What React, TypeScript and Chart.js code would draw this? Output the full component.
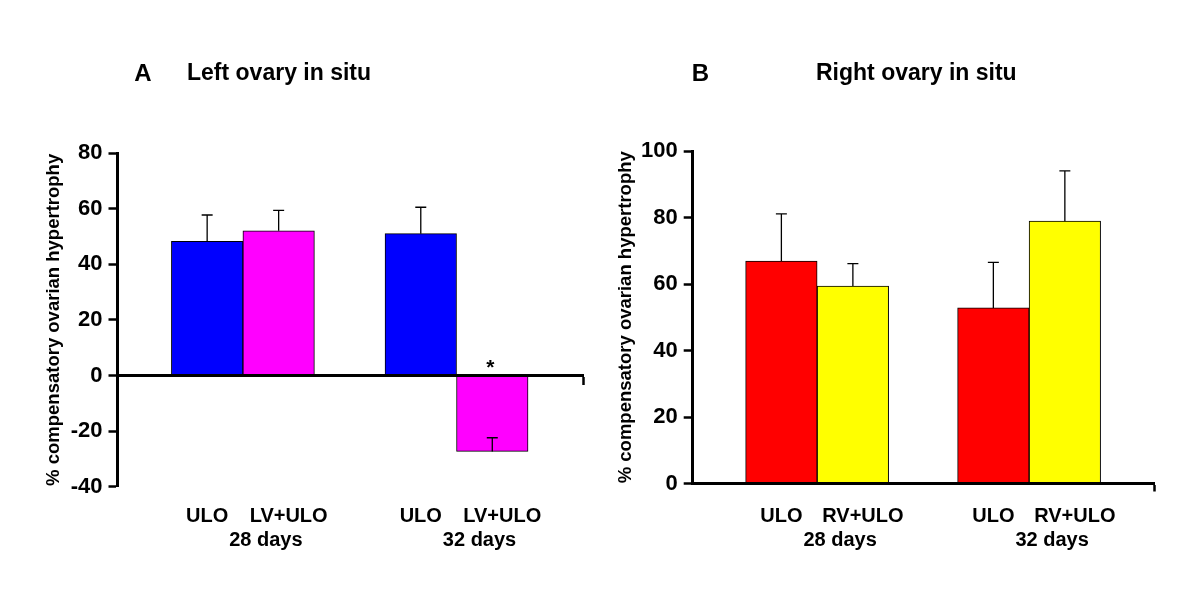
import { useEffect, useRef } from 'react';
import { Chart, registerables } from 'chart.js';

Chart.register(...registerables);

// ---------- data ----------
const GROUP_LABELS = ['28 days', '32 days'];
const GROUP_POS = [0, 1];

const A_SERIES = ['ULO', 'LV+ULO'];
const A_ULO = [48.2, 51.0];
const A_ULO_ERR = [9.5, 9.5];
const A_LV = [52.0, -27.3];
const A_LV_ERR = [7.4, 4.9];
const A_LV_MARKS = ['', '*'];
const A_Y_MIN = -40;
const A_Y_MAX = 80;

const B_SERIES = ['ULO', 'RV+ULO'];
const B_ULO = [66.9, 52.8];
const B_ULO_ERR = [14.2, 13.7];
const B_RV = [59.4, 78.9];
const B_RV_ERR = [6.7, 15.1];
const B_Y_MIN = 0;
const B_Y_MAX = 100;

const Y_STEP = 20;
const Y_TITLE = '% compensatory ovarian hypertrophy';

// ---------- style ----------
const FONT = "'Liberation Sans', Arial, Helvetica, sans-serif";
const X_MIN = -0.587;
const X_MAX = 1.592;
const BAR_W = 71.5;

type Panel = {
  letter: string;
  title: string;
  series: string[];
  values: number[][];
  errors: number[][];
  marks: string[][];
  colors: string[];
  yMin: number;
  yMax: number;
  xPos: any;
  padding: { left: number; top: number; right: number; bottom: number };
  axisX: number;
  yTitlePad: number;
  letterX: number;
  titleX: number;
};

const PANELS: Panel[] = [
  {
    letter: 'A',
    title: 'Left ovary in situ',
    series: A_SERIES,
    values: [A_ULO, A_LV],
    errors: [A_ULO_ERR, A_LV_ERR],
    marks: [['', ''], A_LV_MARKS],
    colors: ['#0000FF', '#FF00FF'],
    yMin: A_Y_MIN,
    yMax: A_Y_MAX,
    xPos: { y: 0 },
    padding: { left: 0, top: 153, right: 17, bottom: 113.3 },
    axisX: 117.5,
    yTitlePad: 43,
    letterX: 143,
    titleX: 187,
  },
  {
    letter: 'B',
    title: 'Right ovary in situ',
    series: B_SERIES,
    values: [B_ULO, B_RV],
    errors: [B_ULO_ERR, B_RV_ERR],
    marks: [['', ''], ['', '']],
    colors: ['#FF0000', '#FFFF00'],
    yMin: B_Y_MIN,
    yMax: B_Y_MAX,
    xPos: 'bottom',
    padding: { left: 0, top: 151, right: 45.4, bottom: 116.5 },
    axisX: 92.7,
    yTitlePad: 15,
    letterX: 100.5,
    titleX: 216,
  },
];

const SERIES_NUDGE = [0, 10];
const GROUP_NUDGE = 23;
const ROW1_Y = 521.5;
const ROW2_Y = 546;
const HEADER_Y = 74;

const annotate = {
  id: 'annotate',
  afterDatasetsDraw(chart: any, _args: any, opts: any) {
    const ctx = chart.ctx;
    const xs = chart.scales.x;
    const ys = chart.scales.y;
    ctx.save();
    // error bars + marks
    chart.data.datasets.forEach((ds: any, di: number) => {
      const meta = chart.getDatasetMeta(di);
      meta.data.forEach((bar: any, i: number) => {
        const v = ds.data[i].y;
        const e = ds.errors[i];
        const base = ys.getPixelForValue(v);
        const top = ys.getPixelForValue(v + e);
        ctx.strokeStyle = '#000';
        ctx.lineWidth = 1.3;
        ctx.beginPath();
        ctx.moveTo(bar.x, base);
        ctx.lineTo(bar.x, top);
        ctx.moveTo(bar.x - 5.5, top);
        ctx.lineTo(bar.x + 5.5, top);
        ctx.stroke();
        const mark = ds.marks[i];
        if (mark) {
          ctx.fillStyle = '#000';
          ctx.font = `bold 21px ${FONT}`;
          ctx.textAlign = 'center';
          ctx.textBaseline = 'alphabetic';
          ctx.fillText(mark, bar.x - 2, ys.getPixelForValue(0) - 1);
        }
      });
    });
    // category labels
    ctx.fillStyle = '#000';
    ctx.font = `bold 20px ${FONT}`;
    ctx.textAlign = 'center';
    ctx.textBaseline = 'alphabetic';
    chart.data.datasets.forEach((ds: any, di: number) => {
      const meta = chart.getDatasetMeta(di);
      meta.data.forEach((bar: any) => {
        ctx.fillText(ds.label, bar.x + SERIES_NUDGE[di], ROW1_Y);
      });
    });
    GROUP_LABELS.forEach((g, gi) => {
      ctx.fillText(g, xs.getPixelForValue(GROUP_POS[gi]) + GROUP_NUDGE, ROW2_Y);
    });
    // header
    ctx.textBaseline = 'middle';
    ctx.textAlign = 'center';
    ctx.font = `bold 24px ${FONT}`;
    ctx.fillText(opts.letter, opts.letterX, HEADER_Y);
    ctx.font = `bold 23px ${FONT}`;
    ctx.textAlign = 'left';
    ctx.fillText(opts.title, opts.titleX, HEADER_Y);
    ctx.restore();
  },
};

function PanelChart({ panel, left }: { panel: Panel; left: number }) {
  const ref = useRef<HTMLCanvasElement | null>(null);
  useEffect(() => {
    if (!ref.current) return;
    const datasets = panel.series.map((name, si) => ({
      label: name,
      data: GROUP_POS.map((x, gi) => ({ x, y: panel.values[si][gi] })),
      errors: panel.errors[si],
      marks: panel.marks[si],
      backgroundColor: panel.colors[si],
      borderColor: '#000',
      borderWidth: 1,
      borderSkipped: false,
      barThickness: BAR_W,
    }));
    const chart = new Chart(ref.current, {
      type: 'bar',
      data: { datasets } as any,
      plugins: [annotate as any],
      options: {
        animation: false,
        responsive: false,
        devicePixelRatio: 1,
        layout: { padding: panel.padding },
        plugins: {
          legend: { display: false },
          tooltip: { enabled: false },
          annotate: {
            letter: panel.letter,
            title: panel.title,
            letterX: panel.letterX,
            titleX: panel.titleX,
          },
        } as any,
        scales: {
          x: {
            type: 'linear',
            min: X_MIN,
            max: X_MAX,
            offset: false,
            position: panel.xPos,
            ticks: { display: false, stepSize: 1 },
            grid: {
              display: true,
              offset: false,
              drawOnChartArea: false,
              drawTicks: true,
              tickLength: 8,
              tickWidth: 2.5,
              tickColor: (c: any) =>
                c.tick && c.tick.value >= X_MAX - 1e-6 ? '#000' : 'rgba(0,0,0,0)',
            },
            border: { display: true, color: '#000', width: 3, z: 1 },
            afterFit: (s: any) => {
              s.height = 0;
            },
          } as any,
          y: {
            type: 'linear',
            position: 'left',
            min: panel.yMin,
            max: panel.yMax,
            ticks: {
              stepSize: Y_STEP,
              color: '#000',
              padding: 6,
              font: { family: FONT, size: 22, weight: 'bold' },
            },
            grid: {
              display: true,
              drawOnChartArea: false,
              drawTicks: true,
              tickLength: 9,
              tickWidth: 2.5,
              tickColor: '#000',
            },
            border: { display: true, color: '#000', width: 3, z: 1 },
            title: {
              display: true,
              text: Y_TITLE,
              color: '#000',
              font: { family: FONT, size: 18.5, weight: 'bold' },
              padding: { top: panel.yTitlePad, bottom: 0 },
            },
            afterFit: (s: any) => {
              s.width = panel.axisX;
            },
          } as any,
        },
      },
    });
    return () => chart.destroy();
  }, [panel]);
  return (
    <canvas
      ref={ref}
      width={600}
      height={600}
      style={{ position: 'absolute', left, top: 0, width: 600, height: 600, display: 'block' }}
    />
  );
}

export default function App() {
  return (
    <div style={{ position: 'absolute', left: 0, top: 0, width: 1200, height: 600, background: '#fff' }}>
      <PanelChart panel={PANELS[0]} left={0} />
      <PanelChart panel={PANELS[1]} left={600} />
    </div>
  );
}
